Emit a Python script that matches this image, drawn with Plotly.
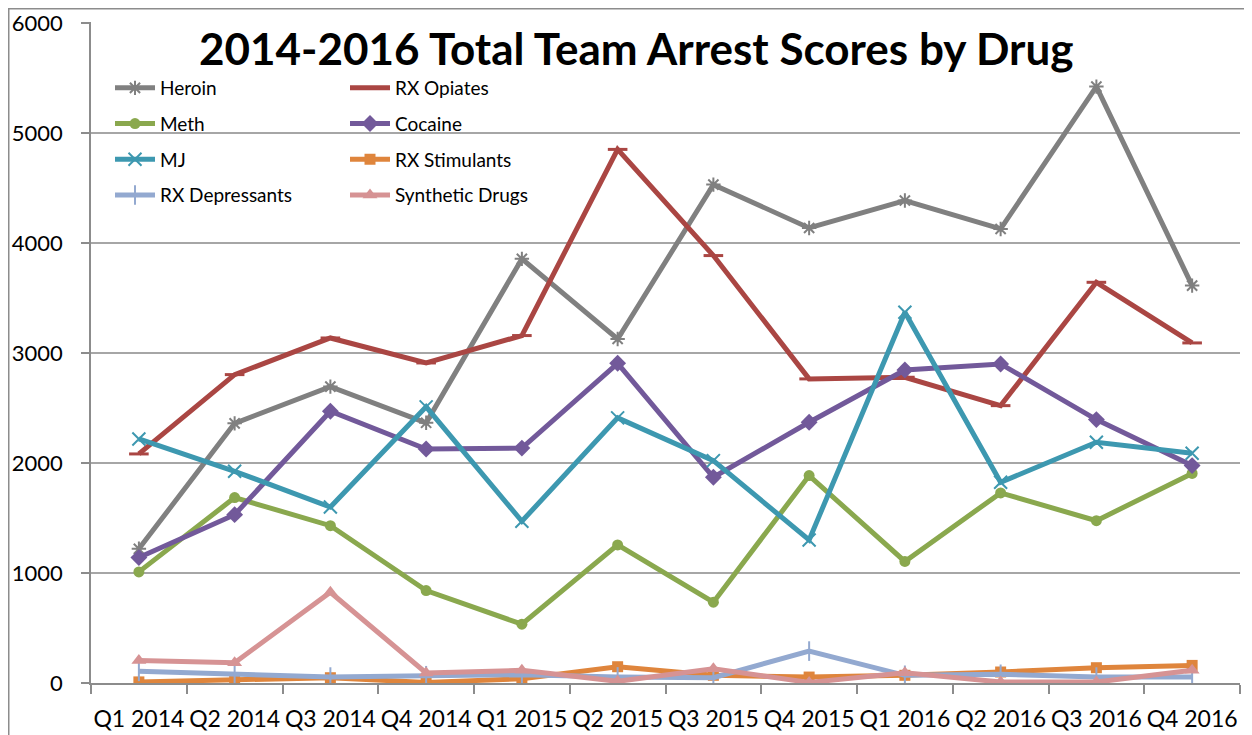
import plotly.graph_objects as go

categories = ["Q1 2014", "Q2 2014", "Q3 2014", "Q4 2014",
              "Q1 2015", "Q2 2015", "Q3 2015", "Q4 2015",
              "Q1 2016", "Q2 2016", "Q3 2016", "Q4 2016"]

heroin = [1220, 2360, 2694, 2365, 3855, 3127, 4530, 4136, 4385, 4127, 5421, 3612]
rx_opiates = [2082, 2803, 3136, 2909, 3158, 4850, 3885, 2764, 2779, 2521, 3642, 3091]
meth = [1010, 1685, 1430, 840, 535, 1255, 735, 1885, 1105, 1728, 1475, 1905]
cocaine = [1140, 1530, 2470, 2127, 2135, 2906, 1870, 2370, 2845, 2900, 2394, 1976]
mj = [2218, 1924, 1600, 2510, 1470, 2410, 2021, 1300, 3370, 1824, 2188, 2088]
rx_stimulants = [10, 24, 48, 5, 39, 148, 70, 54, 70, 100, 139, 160]
rx_depressants = [106, 75, 54, 66, 75, 55, 48, 290, 70, 79, 54, 54]
synthetic = [205, 184, 825, 91, 115, 15, 130, 5, 94, 9, 9, 115]

y_ticks = [0, 1000, 2000, 3000, 4000, 5000, 6000]

FONT = "Lato"

series = [
    ("Heroin", heroin, "#808080", dict(symbol="asterisk-open", size=12, line=dict(width=2, color="#808080")), "legend"),
    ("RX Opiates", rx_opiates, "#AA4643", dict(symbol="line-ew-open", size=14, line=dict(width=3, color="#AA4643")), "legend2"),
    ("Meth", meth, "#8AA84E", dict(symbol="circle", size=11), "legend"),
    ("Cocaine", cocaine, "#72599A", dict(symbol="diamond", size=13), "legend2"),
    ("MJ", mj, "#3D98B0", dict(symbol="x-thin-open", size=13, line=dict(width=2, color="#3D98B0")), "legend"),
    ("RX Stimulants", rx_stimulants, "#DF853C", dict(symbol="square", size=11), "legend2"),
    ("RX Depressants", rx_depressants, "#93A9D0", dict(symbol="line-ns-open", size=14, line=dict(width=2, color="#93A9D0")), "legend"),
    ("Synthetic Drugs", synthetic, "#D69394", dict(symbol="triangle-up", size=13), "legend2"),
]

fig = go.Figure()
for name, vals, color, marker, leg in series:
    m = dict(marker)
    m.setdefault("color", color)
    fig.add_trace(go.Scatter(
        x=categories, y=vals, name=name, mode="lines+markers",
        line=dict(color=color, width=5),
        marker=m, legend=leg, legendgroup=name,
    ))

# page offset from default body margin
OFF = 8
W, H = 1244, 727
# plot area in page pixels: x 91..1240, y 22..683
L = 91 - OFF
T = 22 - OFF
R = W - (1240 - OFF)
B = H - (683 - OFF)
pw, ph = W - L - R, H - T - B


def px_x(px):
    return (px - OFF - L) / pw


def px_y(py):
    return (H - B - (py - OFF)) / ph


legend_common = dict(
    font=dict(family=FONT, size=19, color="#000000"),
    bgcolor="rgba(0,0,0,0)",
    yanchor="top", xanchor="left",
    traceorder="grouped", tracegroupgap=8,
    itemwidth=40,
)

fig.update_layout(
    width=W, height=H,
    margin=dict(l=L, r=R, t=T, b=B, autoexpand=False),
    paper_bgcolor="white", plot_bgcolor="white",
    font=dict(family=FONT, color="#000000"),
    showlegend=True,
    legend=dict(x=px_x(110), y=px_y(69), **legend_common),
    legend2=dict(x=px_x(345), y=px_y(69), **legend_common),
    xaxis=dict(
        type="category", range=[-0.5, 11.5],
        tickson="boundaries", ticks="outside", ticklen=9, tickwidth=1.5, tickcolor="#8c8c8c",
        showline=True, linecolor="#8c8c8c", linewidth=1.5,
        showgrid=False, tickfont=dict(family=FONT, size=23, color="#000000"),
        tickangle=0, ticklabelstandoff=15, automargin=False,
        ticklabeloverflow="allow",
        fixedrange=True,
    ),
    yaxis=dict(
        range=[0, 6008], tickvals=y_ticks, ticktext=[str(v) for v in y_ticks],
        ticks="outside", ticklen=8, tickwidth=1.5, tickcolor="#8c8c8c",
        showline=True, linecolor="#8c8c8c", linewidth=1.5,
        showgrid=True, gridcolor="#a6a6a6", gridwidth=1.5,
        zeroline=False,
        tickfont=dict(family=FONT, size=22, color="#000000"),
        ticklabelstandoff=14, automargin=False,
        ticklabeloverflow="allow",
        fixedrange=True,
    ),
    annotations=[dict(
        text="<b>2014-2016 Total Team Arrest Scores by Drug</b>",
        xref="paper", yref="paper", x=px_x(636), y=px_y(48),
        xanchor="center", yanchor="middle", showarrow=False,
        font=dict(family=FONT, size=44, color="#000000"),
    )],
    shapes=[dict(
        type="rect", xref="paper", yref="paper",
        x0=px_x(OFF + 0.75), x1=px_x(1270), y0=px_y(760), y1=px_y(OFF + 0.75),
        line=dict(color="#8c8c8c", width=1.5), fillcolor="rgba(0,0,0,0)", layer="below",
    )],
)

fig.write_html("out.html")
